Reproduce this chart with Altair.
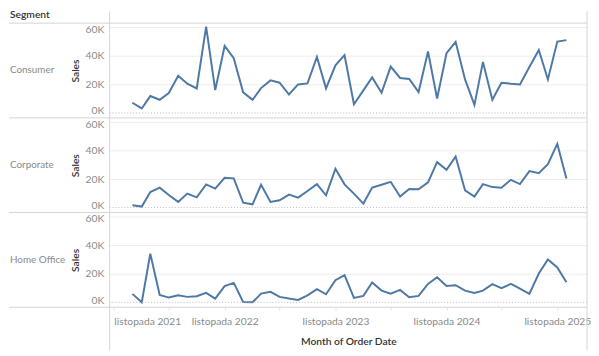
import altair as alt
import pandas as pd

# ---- data ----
months = pd.date_range("2022-01-01", periods=48, freq="MS").strftime("%Y-%m-%d").tolist()
segments = ["Consumer", "Corporate", "Home Office"]
consumer = [7100, 3100, 11800, 9200, 13900, 26100, 20500, 17200, 60500, 16000, 47000, 38400,
            14400, 9200, 17400, 22800, 21200, 12900, 20000, 20700, 39300, 17200, 33400, 40500,
            6100, 15800, 24900, 14100, 32500, 24500, 23800, 14600, 43100, 10100, 41900, 49900,
            23500, 5600, 35800, 9200, 21200, 20500, 20000, 32200, 44200, 23500, 50100, 51100]
corporate = [1600, 700, 10900, 14000, 8800, 4000, 9800, 7200, 16300, 13300, 20900, 20500,
             3500, 2300, 16000, 4000, 5100, 9100, 7000, 11600, 16500, 8600, 27200, 16300,
             9800, 2800, 14000, 16000, 18100, 7700, 13000, 12800, 17700, 31900, 26500, 35800,
             12100, 7700, 16500, 14400, 14000, 19500, 16500, 25600, 24200, 30500, 44700, 20500]
home_office = [5900, 0, 34100, 5200, 3300, 4900, 3800, 4200, 6600, 2600, 11300, 13600,
               200, 0, 6100, 7300, 3800, 2600, 1600, 4900, 9200, 5600, 15500, 19100,
               3100, 4500, 13900, 8200, 6100, 8700, 3500, 4500, 12900, 17600, 11500, 12000,
               8200, 6600, 8200, 12700, 9900, 12900, 9600, 5900, 20200, 30100, 24500, 14100]
series = [consumer, corporate, home_office]
y_ticks = [0, 20000, 40000, 60000]
tick_months = [(2021, 11), (2022, 5), (2022, 11), (2023, 5), (2023, 11),
               (2024, 5), (2024, 11), (2025, 5), (2025, 11)]

# ---- styling ----
W, H = 484, 96
FONT = "Lato"
LINE = "#4e79a7"
FRAME = "#d4d4d4"
LABEL = "#8a8a8a"
TITLE = "#333333"
LEFT = -102
FS = 10.4

xscale = alt.Scale(
    type="utc",
    domain=[alt.DateTime(year=2021, month=10, date=18, utc=True),
            alt.DateTime(year=2026, month=2, date=7, utc=True)],
)
yscale = alt.Scale(domain=[-3500, 63000], nice=False, zero=False)

one = pd.DataFrame({"k": [0]})


def yaxis():
    return alt.Axis(
        values=y_ticks, labelExpr="datum.value / 1000 + 'K'", title="Sales",
        grid=True, gridColor="#ececec", labelOverlap=False,
        gridOpacity={"condition": {"test": "datum.value === 0", "value": 0}, "value": 1},
        labelOffset={"condition": [{"test": "datum.value === 0", "value": -2},
                                   {"test": "datum.value === 60000", "value": 2}],
                     "value": 0},
        domain=False, ticks=False, labelPadding=6, labelColor=LABEL, labelFontSize=FS,
        titleColor=TITLE, titleFontSize=FS, titleFontWeight=600, titlePadding=5,
    )


def panel(idx):
    seg = segments[idx]
    df = pd.DataFrame({"month": months, "sales": series[idx]})
    last = idx == len(segments) - 1
    first = idx == 0

    if last:
        xaxis = alt.Axis(
            values=[alt.DateTime(year=y, month=m, date=1, utc=True) for y, m in tick_months],
            labelExpr="utcmonth(datum.value) == 10 ? 'listopada ' + utcyear(datum.value) : ''",
            title="Month of Order Date", grid=False, domain=False, labelOverlap=False,
            tickColor="#e6e6e6", tickSize=3, labelFlush=15, labelPadding=6,
            labelColor=LABEL, labelFontSize=FS, titleColor=TITLE, titleFontSize=FS,
            titleFontWeight=600, titlePadding=10,
        )
    else:
        xaxis = None

    line = alt.Chart(df).mark_line(color=LINE, strokeWidth=2).encode(
        x=alt.X("month:T", scale=xscale, axis=xaxis),
        y=alt.Y("sales:Q", scale=yscale, axis=yaxis()),
    )
    zero = alt.Chart(one).mark_rule(color="#b8b8b8", strokeDash=[1, 2], strokeWidth=1).encode(
        y=alt.YDatum(0, scale=yscale, axis=yaxis())
    )
    label = alt.Chart(pd.DataFrame({"seg": [seg]})).mark_text(
        align="left", baseline="middle", fontSize=10, color=LABEL, font=FONT
    ).encode(text="seg:N", x=alt.value(LEFT + 1), y=alt.value(H / 2))

    top = -12 if first else 0
    bottom = H + 44 if last else H
    vleft = alt.Chart(one).mark_rule(color=FRAME).encode(
        x=alt.value(0), y=alt.value(top), y2=alt.value(bottom))
    vright = alt.Chart(one).mark_rule(color=FRAME).encode(
        x=alt.value(W), y=alt.value(top), y2=alt.value(bottom))
    hbottom = alt.Chart(one).mark_rule(color=FRAME).encode(
        x=alt.value(LEFT), x2=alt.value(W), y=alt.value(H))
    layers = [line, zero, label, vleft, vright, hbottom]
    if first:
        htop = alt.Chart(one).mark_rule(color=FRAME).encode(
            x=alt.value(LEFT), x2=alt.value(W), y=alt.value(0))
        header = alt.Chart(pd.DataFrame({"h": ["Segment"]})).mark_text(
            align="left", baseline="alphabetic", fontSize=FS, color=TITLE,
            font=FONT, fontWeight=600
        ).encode(text="h:N", x=alt.value(LEFT + 1), y=alt.value(-5))
        layers += [htop, header]
    return alt.layer(*layers).properties(width=W, height=H)


chart = alt.vconcat(*[panel(i) for i in range(3)], spacing=0, bounds="flush").properties(
    padding=0
).configure_view(stroke=None).configure_axis(
    labelFont=FONT, titleFont=FONT
).configure_text(font=FONT)

chart.save("out.html", embed_options={"renderer": "svg", "actions": False})
